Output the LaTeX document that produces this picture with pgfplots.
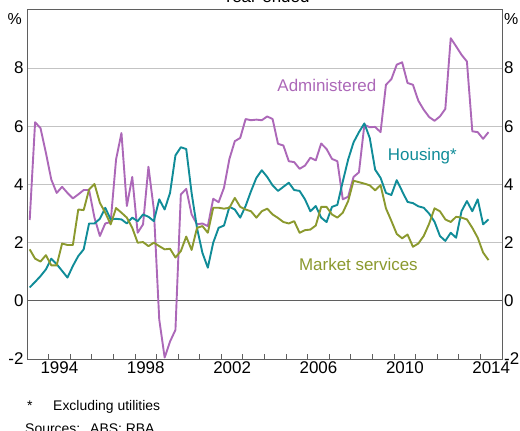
\documentclass[border=0pt]{standalone}
\usepackage{pgfplots}
\pgfplotsset{compat=1.18}
\usepackage{pgfplotstable}
\usepackage{fontspec}
\setmainfont{Liberation Sans}
\definecolor{adm}{RGB}{172,104,184}
\definecolor{hou}{RGB}{16,140,152}
\definecolor{mkt}{RGB}{139,153,46}
\definecolor{gridc}{RGB}{195,195,195}
\definecolor{axc}{RGB}{95,95,95}

\pgfplotstableread{
x adm hou mkt
1993.125 2.78 0.46 1.77
1993.375 6.14 0.65 1.45
1993.625 5.94 0.85 1.35
1993.875 5.09 1.08 1.57
1994.125 4.17 1.45 1.22
1994.375 3.71 1.26 1.22
1994.625 3.92 1.03 1.97
1994.875 3.71 0.80 1.92
1995.125 3.52 1.20 1.92
1995.375 3.66 1.54 3.14
1995.625 3.81 1.77 3.12
1995.875 3.81 2.66 3.83
1996.125 2.86 2.66 4.02
1996.375 2.23 2.82 3.37
1996.625 2.66 3.20 3.03
1996.875 2.71 2.80 2.63
1997.125 4.86 2.82 3.19
1997.375 5.77 2.80 3.03
1997.625 3.26 2.66 2.86
1997.875 4.26 2.86 2.51
1998.125 2.34 2.74 2.00
1998.375 2.63 2.97 2.02
1998.625 4.61 2.89 1.88
1998.875 3.14 2.74 2.00
1999.125 -0.64 3.49 1.88
1999.375 -1.95 3.14 1.77
1999.625 -1.40 3.71 1.79
1999.875 -1.00 5.00 1.49
2000.125 3.66 5.28 1.71
2000.375 3.85 5.22 2.21
2000.625 2.97 3.70 1.75
2000.875 2.63 2.50 2.51
2001.125 2.66 1.65 2.57
2001.375 2.57 1.14 2.34
2001.625 3.51 2.00 3.20
2001.875 3.39 2.51 3.20
2002.125 3.89 2.59 3.17
2002.375 4.88 3.23 3.20
2002.625 5.49 3.14 3.54
2002.875 5.60 2.86 3.23
2003.125 6.25 3.26 3.14
2003.375 6.21 3.77 3.08
2003.625 6.23 4.23 2.86
2003.875 6.21 4.49 3.08
2004.125 6.34 4.26 3.17
2004.375 6.25 3.97 2.97
2004.625 5.40 3.78 2.85
2004.875 5.34 3.92 2.71
2005.125 4.80 4.06 2.66
2005.375 4.77 3.81 2.74
2005.625 4.54 3.78 2.34
2005.875 4.65 3.49 2.43
2006.125 4.92 3.08 2.45
2006.375 4.83 3.26 2.59
2006.625 5.41 2.86 3.23
2006.875 5.22 2.71 3.23
2007.125 4.88 3.23 2.97
2007.375 4.80 3.30 2.86
2007.625 3.49 4.10 3.03
2007.875 3.58 4.86 3.43
2008.125 4.26 5.45 4.13
2008.375 4.42 5.80 4.08
2008.625 6.05 6.10 4.03
2008.875 5.97 5.60 3.97
2009.125 5.98 4.51 3.80
2009.375 5.80 4.23 3.98
2009.625 7.43 3.71 3.18
2009.875 7.62 3.64 2.75
2010.125 8.12 4.15 2.30
2010.375 8.20 3.77 2.15
2010.625 7.49 3.40 2.28
2010.875 7.43 3.36 1.86
2011.125 6.88 3.25 1.97
2011.375 6.57 3.20 2.23
2011.625 6.32 3.00 2.65
2011.875 6.19 2.72 3.18
2012.125 6.34 2.23 3.08
2012.375 6.60 2.06 2.80
2012.625 9.03 2.34 2.71
2012.875 8.75 2.17 2.89
2013.125 8.46 3.08 2.86
2013.375 8.23 3.43 2.80
2013.625 5.83 3.08 2.51
2013.875 5.80 3.49 2.17
2014.125 5.57 2.63 1.66
2014.375 5.80 2.80 1.40
}\data

\begin{document}
\begin{tikzpicture}
\begin{axis}[
  scale only axis, width=475bp, height=349bp,
  at={(0,0)}, anchor=south west,
  xmin=1993, xmax=2015, ymin=-2, ymax=10,
  axis line style={axc, line width=1bp},
  xtick={1994.5,1998.5,2002.5,2006.5,2010.5,2014.5},
  xticklabels={1994,1998,2002,2006,2010,2014},
  major x tick style={draw=none},
  minor xtick={1993,...,2015},
  minor x tick style={axc, line width=0.8bp},
  minor tick length=5bp,
  tick align=inside,
  xtick pos=bottom,
  ytick={-2,0,2,4,6,8},
  yticklabels={-2,0,2,4,6,8},
  ytick pos=left,
  ytick style={draw=none},
  ymajorgrids, grid style={gridc, line width=0.8bp},
  tick label style={font=\fontsize{17}{20}\selectfont},
  xticklabel style={inner sep=0.25em},
  clip=false,
]
\draw[axc, line width=1bp] (axis cs:1993,0) -- (axis cs:2015,0);
\addplot[adm, line width=1.9bp, line join=round] table[x=x, y=adm] {\data};
\addplot[hou, line width=1.9bp, line join=round] table[x=x, y=hou] {\data};
\addplot[mkt, line width=1.9bp, line join=round] table[x=x, y=mkt] {\data};
\node[adm, font=\fontsize{17}{20}\selectfont] at (axis cs:2006.89,7.39) {Administered};
\node[hou, font=\fontsize{17}{20}\selectfont] at (axis cs:2011.31,4.98) {Housing*};
\node[mkt, font=\fontsize{17}{20}\selectfont] at (axis cs:2008.35,1.24) {Market services};
\end{axis}
\begin{axis}[
  scale only axis, width=475bp, height=349bp,
  at={(0,0)}, anchor=south west,
  xmin=1993, xmax=2015, ymin=-2, ymax=10,
  hide x axis,
  axis y line*=right,
  axis line style={draw=none},
  ytick={-2,0,2,4,6,8},
  yticklabels={-2,0,2,4,6,8},
  ytick style={draw=none},
  yticklabel style={inner sep=0.2em},
  tick label style={font=\fontsize{17}{20}\selectfont},
]
\addplot[draw=none] coordinates {(1993,0)};
\end{axis}
\node[anchor=east, font=\fontsize{16}{20}\selectfont, inner sep=0pt] at (-5bp,340bp) {\%};
\node[anchor=west, font=\fontsize{16}{20}\selectfont, inner sep=0pt] at (477bp,340bp) {\%};
\node[anchor=base, font=\fontsize{17}{20}\selectfont, inner sep=0pt] at (239bp,356bp) {Year-ended};
\node[anchor=base west, font=\fontsize{14}{16}\selectfont, inner sep=0pt] at (0bp,-51bp) {*};
\node[anchor=base west, font=\fontsize{14}{16}\selectfont, inner sep=0pt] at (26bp,-51bp) {Excluding utilities};
\node[anchor=base west, font=\fontsize{14}{16}\selectfont, inner sep=0pt] at (-2bp,-74bp) {Sources:};
\node[anchor=base west, font=\fontsize{14}{16}\selectfont, inner sep=0pt] at (63bp,-74bp) {ABS; RBA};
\pgfresetboundingbox
\path[use as bounding box] (-27bp,-72bp) rectangle (493bp,359bp);
\end{tikzpicture}
\end{document}
